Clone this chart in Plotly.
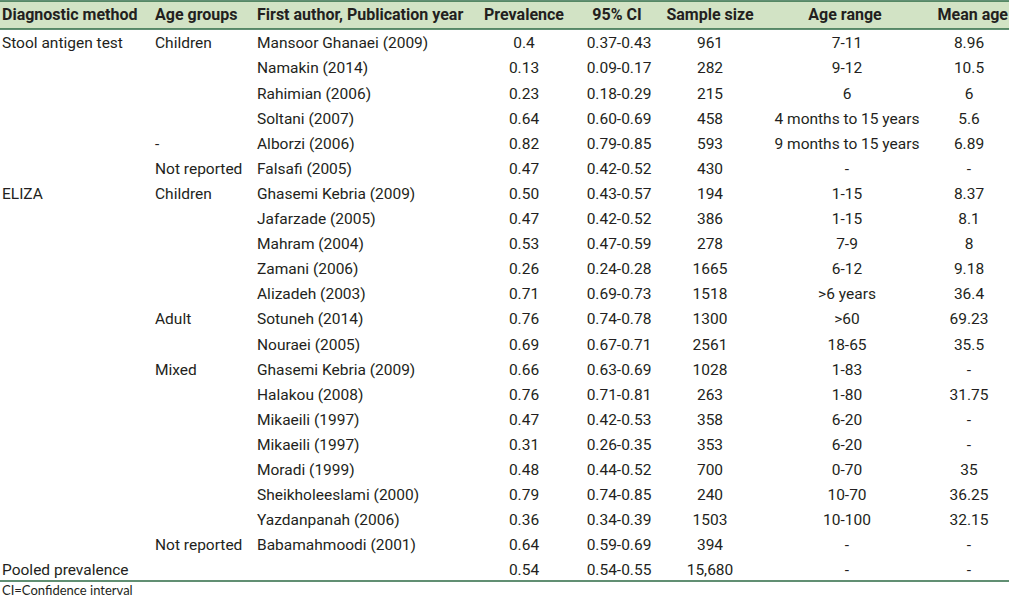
import plotly.graph_objects as go

# table content
headers = ["Diagnostic method", "Age groups", "First author, Publication year",
           "Prevalence", "95% CI", "Sample size", "Age range", "Mean age"]

method = ["Stool antigen test", "", "", "", "", "",
          "ELIZA", "", "", "", "", "", "", "", "", "", "", "", "", "", "",
          "Pooled prevalence"]
age_group = ["Children", "", "", "", "-", "Not reported",
             "Children", "", "", "", "",
             "Adult", "",
             "Mixed", "", "", "", "", "", "",
             "Not reported", ""]
author = ["Mansoor Ghanaei (2009)", "Namakin (2014)", "Rahimian (2006)", "Soltani (2007)",
          "Alborzi (2006)", "Falsafi (2005)", "Ghasemi Kebria (2009)", "Jafarzade (2005)",
          "Mahram (2004)", "Zamani (2006)", "Alizadeh (2003)", "Sotuneh (2014)",
          "Nouraei (2005)", "Ghasemi Kebria (2009)", "Halakou (2008)", "Mikaeili (1997)",
          "Mikaeili (1997)", "Moradi (1999)", "Sheikholeeslami (2000)", "Yazdanpanah (2006)",
          "Babamahmoodi (2001)", ""]
prevalence = ["0.4", "0.13", "0.23", "0.64", "0.82", "0.47", "0.50", "0.47", "0.53", "0.26",
              "0.71", "0.76", "0.69", "0.66", "0.76", "0.47", "0.31", "0.48", "0.79", "0.36",
              "0.64", "0.54"]
ci95 = ["0.37-0.43", "0.09-0.17", "0.18-0.29", "0.60-0.69", "0.79-0.85", "0.42-0.52",
        "0.43-0.57", "0.42-0.52", "0.47-0.59", "0.24-0.28", "0.69-0.73", "0.74-0.78",
        "0.67-0.71", "0.63-0.69", "0.71-0.81", "0.42-0.53", "0.26-0.35", "0.44-0.52",
        "0.74-0.85", "0.34-0.39", "0.59-0.69", "0.54-0.55"]
sample_size = ["961", "282", "215", "458", "593", "430", "194", "386", "278", "1665", "1518",
               "1300", "2561", "1028", "263", "358", "353", "700", "240", "1503", "394",
               "15,680"]
age_range = ["7-11", "9-12", "6", "4 months to 15 years", "9 months to 15 years", "-",
             "1-15", "1-15", "7-9", "6-12", ">6 years", ">60", "18-65", "1-83", "1-80",
             "6-20", "6-20", "0-70", "10-70", "10-100", "-", "-"]
mean_age = ["8.96", "10.5", "6", "5.6", "6.89", "-", "8.37", "8.1", "8", "9.18", "36.4",
            "69.23", "35.5", "-", "31.75", "-", "-", "35", "36.25", "32.15", "-", "-"]

footnote = "CI=Confidence interval"

W, H = 1009, 597
ROW0, ROWH = 44.5, 25.1  # pixel centre of first body row, row pitch
HEADER_BG = "#d2e3c5"
LINE = "#2c6a45"
TEXT = "#231f20"
FONT = "Roboto, Liberation Sans, sans-serif"


def row_of(px):
    """Pixel height from the top -> row coordinate on the y axis."""
    return (px - ROW0) / ROWH


columns = [method, age_group, author, prevalence, ci95, sample_size, age_range, mean_age]
# x anchor of each column (left edge for left-aligned, centre for centred), in pixels
col_x = [2, 155, 257, 524, 619, 710, 847, 969]
header_x = [2, 155, 257, 524, 617, 710, 845, 1008]
col_pos = ["middle right"] * 3 + ["middle center"] * 5
header_pos = ["middle right"] * 3 + ["middle center"] * 4 + ["middle left"]

rows = list(range(len(author)))

fig = go.Figure()

for vals, x, pos in zip(columns, col_x, col_pos):
    fig.add_trace(go.Scatter(
        x=[x] * len(rows), y=rows, mode="text", text=vals, textposition=pos,
        textfont=dict(family=FONT, size=15.5, color=TEXT),
        hoverinfo="skip", showlegend=False, cliponaxis=False,
    ))

fig.add_trace(go.Scatter(
    x=header_x, y=[row_of(16)] * len(headers), mode="text",
    text=[f"<b>{h}</b>" for h in headers], textposition=header_pos,
    textfont=dict(family=FONT, size=16, color=TEXT),
    hoverinfo="skip", showlegend=False, cliponaxis=False,
))

# header band and rules
fig.add_shape(type="rect", xref="paper", x0=0, x1=1, y0=row_of(1), y1=row_of(29),
              fillcolor=HEADER_BG, line_width=0, layer="below")
for px in [1, 29, 581]:
    fig.add_shape(type="line", xref="paper", x0=0, x1=1, y0=row_of(px), y1=row_of(px),
                  line=dict(color=LINE, width=1.6))

fig.add_annotation(text=footnote, x=0, y=row_of(589.5), xanchor="left",
                   yanchor="middle", showarrow=False,
                   font=dict(family="Lato, Open Sans, sans-serif", size=13, color=TEXT))

fig.update_layout(
    width=W, height=H, margin=dict(l=0, r=0, t=0, b=0),
    paper_bgcolor="white", plot_bgcolor="white",
    xaxis=dict(range=[0, W], visible=False, fixedrange=True),
    yaxis=dict(range=[row_of(H), row_of(0)], visible=False, fixedrange=True),
)

fig.write_html("out.html", config={"displayModeBar": False},
               post_script="document.body.style.margin='0';")
